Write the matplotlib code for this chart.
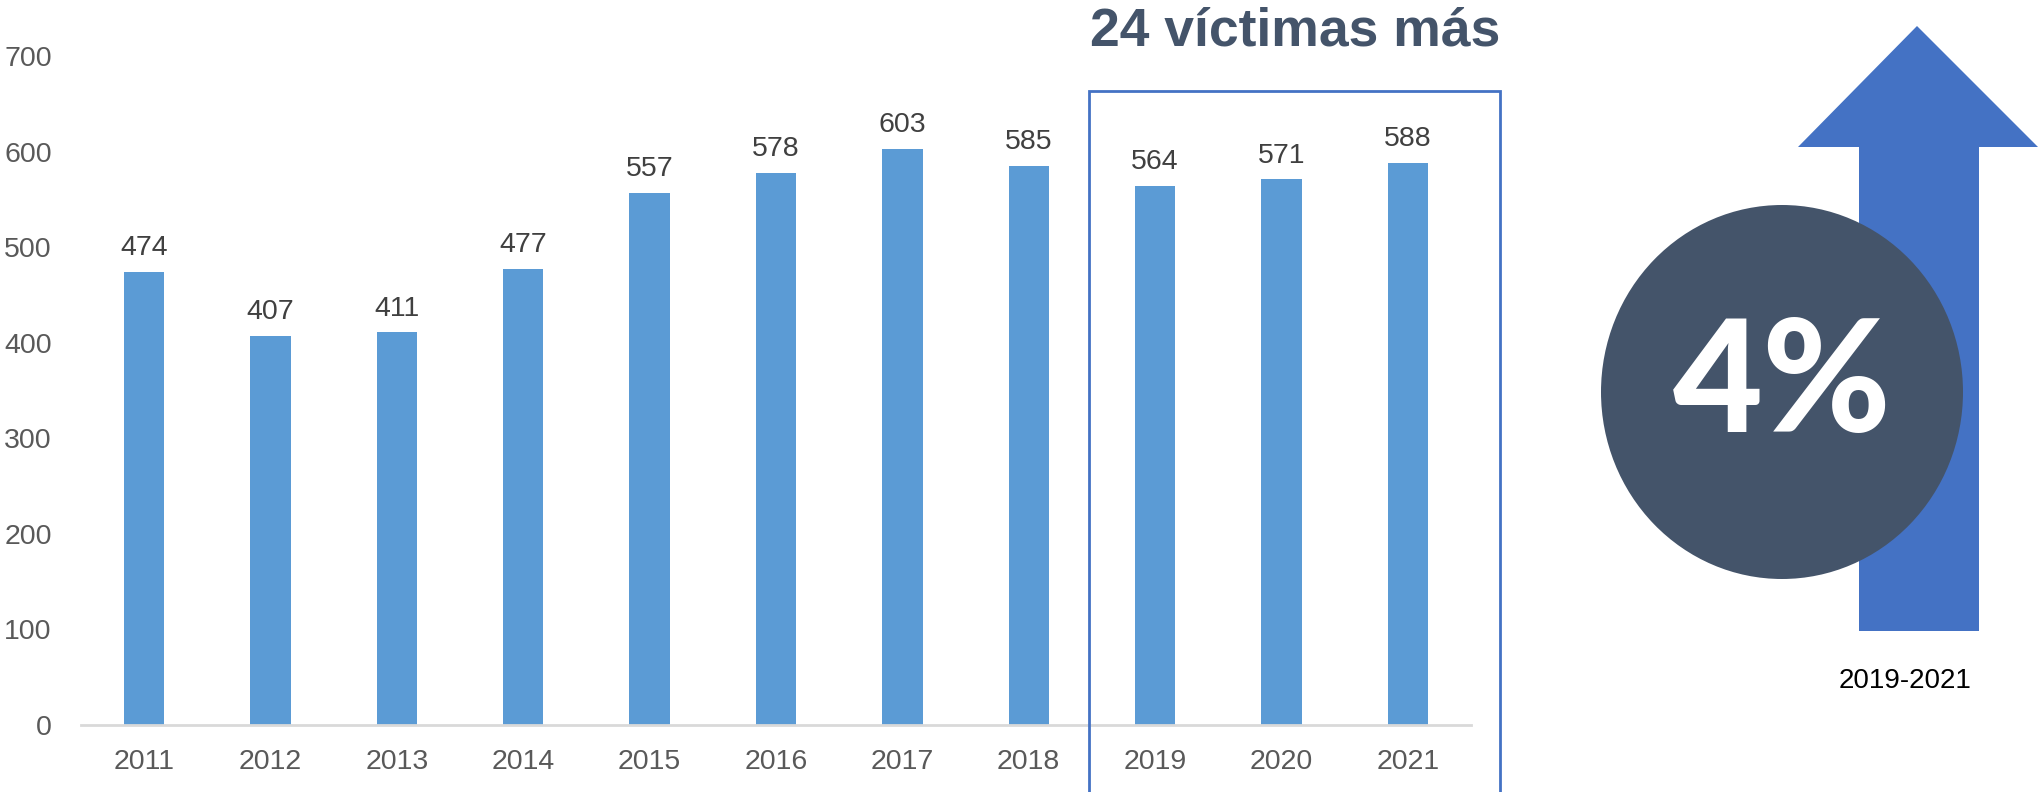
import matplotlib
matplotlib.use("Agg")
import matplotlib.pyplot as plt
from matplotlib.patches import Rectangle, Ellipse, Polygon

years = ["2011", "2012", "2013", "2014", "2015", "2016", "2017", "2018", "2019", "2020", "2021"]
victims = [474, 407, 411, 477, 557, 578, 603, 585, 564, 571, 588]
y_ticks = [0, 100, 200, 300, 400, 500, 600, 700]
title_text = "24 víctimas más"
pct_text = "4%"
period_text = "2019-2021"

BAR = "#5B9BD5"
DARK = "#44546A"
ARROW = "#4472C4"

plt.rcParams['font.family'] = ['Liberation Sans', 'DejaVu Sans']

W, H = 2041, 792
fig = plt.figure(figsize=(W / 100, H / 100), dpi=100)
ax = fig.add_axes([81 / W, 1 - 725 / H, (1471 - 81) / W, (725 - 56) / H])

x = list(range(len(years)))
ax.bar(x, victims, width=0.32, color=BAR, zorder=2)
for xi, v in zip(x, victims):
    ax.annotate(str(v), (xi, v), xytext=(0, 12), textcoords="offset points",
                ha="center", va="baseline", fontsize=20.5, color="#404040")

ax.set_xlim(-0.5, len(years) - 0.5)
ax.set_ylim(0, 700)
ax.set_yticks(y_ticks)
ax.set_xticks(x)
ax.set_xticklabels(years)
ax.tick_params(axis="both", length=0, labelsize=20.5, labelcolor="#595959")
ax.tick_params(axis="x", pad=17)
ax.tick_params(axis="y", pad=21)
for s in ["top", "right", "left"]:
    ax.spines[s].set_visible(False)
ax.spines["bottom"].set_color("#D9D9D9")
ax.spines["bottom"].set_linewidth(2)

# highlight box around 2019-2021
box = Rectangle((7.48, -120), 3.25, 783, fill=False, edgecolor=ARROW,
                linewidth=2, clip_on=False, zorder=3)
ax.add_patch(box)
fig.text((1090 + 1501) / 2 / W, 1 - 46 / H, title_text, ha="center", va="baseline",
         fontsize=38.5, fontweight="bold", color=DARK)

# right side graphic, drawn in pixel space
ov = fig.add_axes([0, 0, 1, 1], zorder=5)
ov.set_xlim(0, W)
ov.set_ylim(H, 0)
ov.axis("off")
arrow_pts = [(1859, 631), (1859, 147), (1798, 147), (1917, 26),
             (2038, 147), (1979, 147), (1979, 631)]
ov.add_patch(Polygon(arrow_pts, closed=True, facecolor=ARROW, edgecolor="none"))
ov.add_patch(Ellipse((1782, 392), 362, 374, facecolor=DARK, edgecolor="none"))
ov.text(1782, 432, pct_text, ha="center", va="baseline", fontsize=112,
        fontweight="black", color="white", family=["Lato", "DejaVu Sans"])
ov.text(1905, 681, period_text, ha="center", va="center", fontsize=20, color="black")

fig.savefig("out.png", dpi=100)
